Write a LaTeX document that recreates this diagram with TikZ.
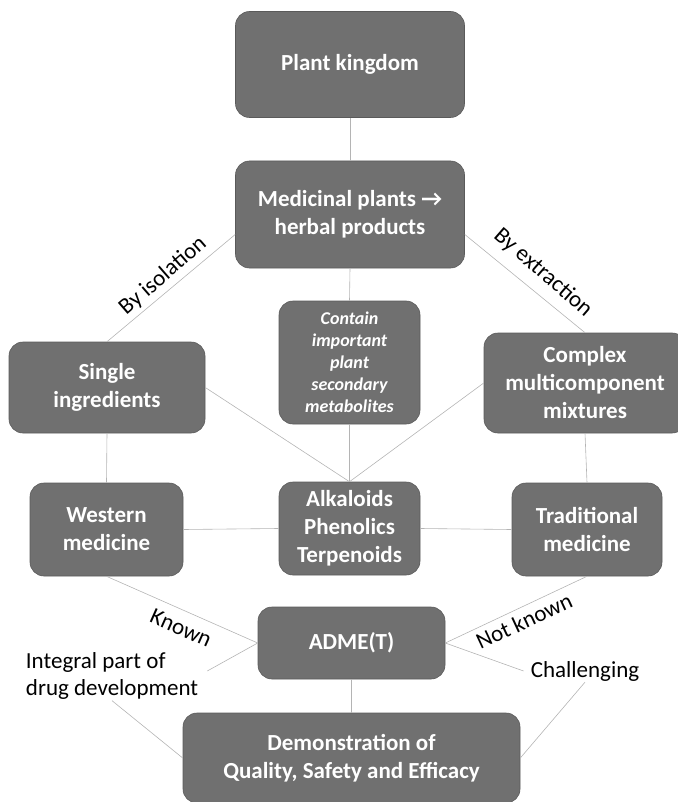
\documentclass[tikz,border=0pt]{standalone}
\usepackage{fontspec}
\setmainfont{Carlito}
\definecolor{boxfill}{HTML}{707070}
\definecolor{boxedge}{HTML}{5A5A5A}
\definecolor{linegray}{HTML}{B4B4B4}
\begin{document}
\begin{tikzpicture}[x=1pt,y=-1pt,
  box/.style={draw=boxedge, line width=0.6pt, fill=boxfill, rounded corners=14pt, text=white,
    font=\bfseries\fontsize{23}{28}\selectfont, align=center, inner sep=0pt},
  lbl/.style={text=black, font=\fontsize{23}{27}\selectfont, inner sep=1pt},
  conn/.style={draw=linegray, line width=0.6pt}]
\useasboundingbox (0,0) rectangle (677,802);
% boxes
\node[box, minimum width=229pt, minimum height=106pt] (plant) at (350,64.5) {Plant kingdom};
\node[box, minimum width=229pt, minimum height=107pt] (med) at (350,214.5) {Medicinal plants →\\herbal products};
\node[box, minimum width=141pt, minimum height=123pt, font=\bfseries\itshape\fontsize{18}{22}\selectfont] (contain) at (349.5,362.5) {Contain\\important\\plant\\secondary\\metabolites};
\node[box, minimum width=196pt, minimum height=91pt] (single) at (107,387.5) {Single\\ingredients};
\node[box, minimum width=202pt, minimum height=100pt] (complex) at (585,383) {Complex\\multicomponent\\mixtures};
\node[box, minimum width=153pt, minimum height=93pt] (western) at (106.5,529.5) {Western\\medicine};
\node[box, minimum width=141pt, minimum height=93pt] (alk) at (349.5,528.5) {Alkaloids\\Phenolics\\Terpenoids};
\node[box, minimum width=150pt, minimum height=93pt] (trad) at (587,529.5) {Traditional\\medicine};
\node[box, minimum width=187pt, minimum height=72pt] (adme) at (351.5,643) {ADME(T)};
\node[box, minimum width=337pt, minimum height=90pt] (demo) at (351.5,758) {Demonstration of\\Quality, Safety and Efficacy};
% labels
\node[lbl, rotate=41] (byiso) at (163,276) {By isolation};
\node[lbl, rotate=-41] (byext) at (543,273) {By extraction};
\node[lbl, rotate=-24] (known) at (181,628) {Known};
\node[lbl, rotate=25] (notknown) at (524,621) {Not known};
\node[lbl, align=left] (integral) at (112,676) {Integral part of\\drug development};
\node[lbl] (chall) at (585,671) {Challenging};
% connectors
\draw[conn] (plant.south) -- (med.north);
\draw[conn] (med.south) -- (contain.north);
\draw[conn] ([yshift=-20pt]med.west) -- (single.north);
\draw[conn] ([yshift=-20pt]med.east) -- (complex.north);
\draw[conn] (single.east) -- (alk.north);
\draw[conn] (contain.south) -- (alk.north);
\draw[conn] (complex.west) -- (alk.north);
\draw[conn] (single.south) -- (western.north);
\draw[conn] (complex.south) -- (trad.north);
\draw[conn] (western.east) -- (alk.west);
\draw[conn] (alk.east) -- (trad.west);
\draw[conn] (western.south) -- (adme.west);
\draw[conn] (trad.south) -- (adme.east);
\draw[conn] (adme.west) -- ([yshift=5pt,xshift=8pt]integral.east);
\draw[conn] (integral.south) -- (demo.west);
\draw[conn] (adme.east) -- ([xshift=-6pt]chall.west);
\draw[conn] (chall.south) -- (demo.east);
\draw[conn] (adme.south) -- (demo.north);
\end{tikzpicture}
\end{document}
